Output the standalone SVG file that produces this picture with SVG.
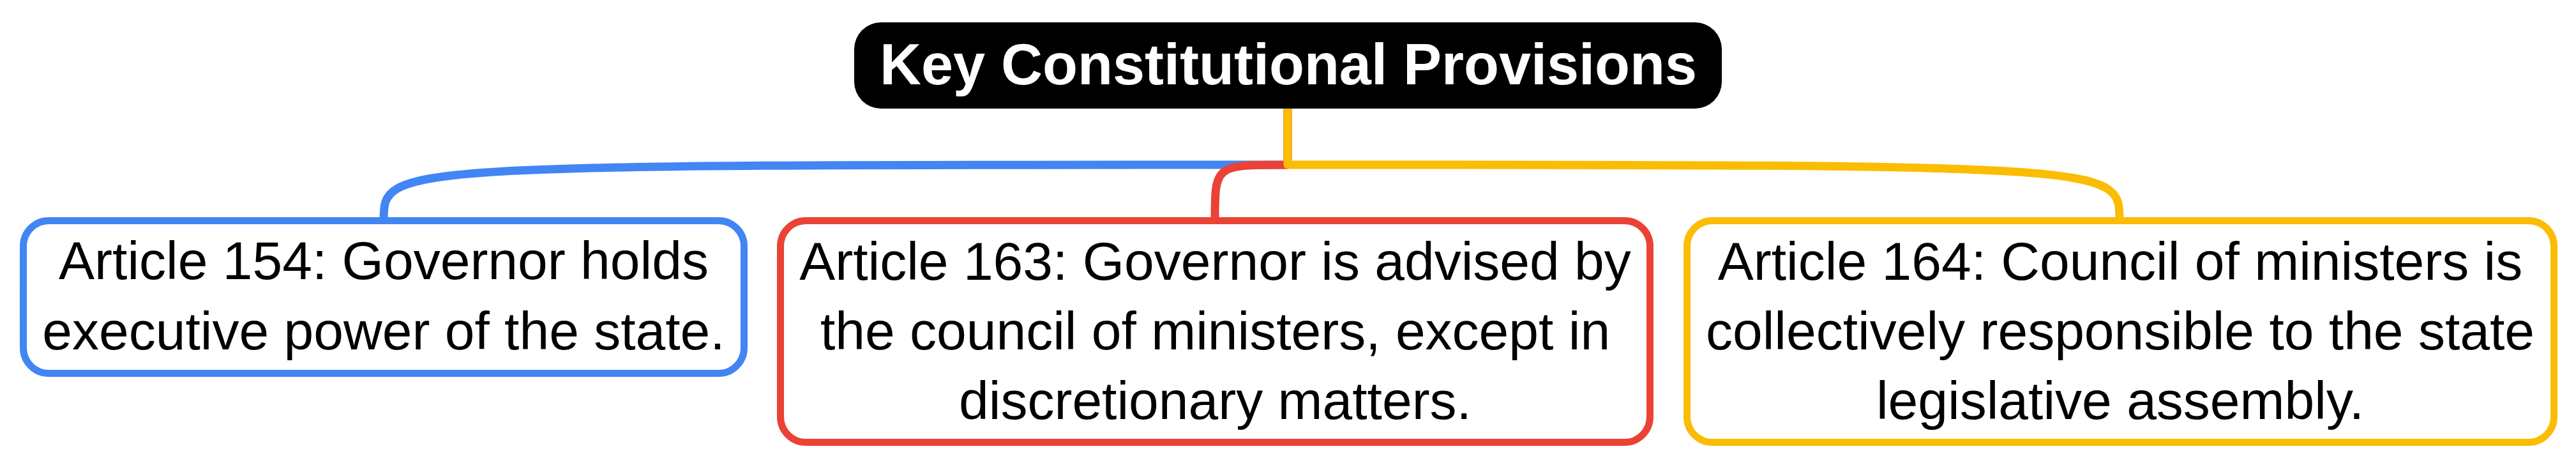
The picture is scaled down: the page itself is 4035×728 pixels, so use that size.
<svg xmlns="http://www.w3.org/2000/svg" width="4035" height="728" viewBox="0 0 4035 728">
<style>
.bg{fill:#ffffff}
.conn{fill:none;stroke-width:13;stroke-linecap:round;stroke-linejoin:round}
.box{fill:#ffffff;stroke-width:11}
.txt{font-family:"Liberation Sans",Arial,sans-serif;font-size:84px;fill:#000000;text-anchor:middle}
.title{font-family:"Liberation Sans",Arial,sans-serif;font-size:90px;font-weight:bold;fill:#ffffff;text-anchor:middle}
</style>
<rect class="bg" x="0" y="0" width="4035" height="728"/>
<g id="connectors">
<path class="conn" stroke="#4285F4" d="M2017 170 L2017 258 C601 258 601 258 601 345"/>
<path class="conn" stroke="#EA4335" d="M2017 170 L2017 258 C1903 258 1903 258 1903 345"/>
<path class="conn" stroke="#FBBC04" d="M2017 170 L2017 258 C3320 258 3320 258 3320 345"/>
</g>
<g id="root">
<rect x="1338" y="35" width="1359" height="135" rx="42" ry="42" fill="#000000"/>
<text class="title" x="2018" y="132">Key Constitutional Provisions</text>
</g>
<g id="node-154">
<rect class="box" stroke="#4285F4" x="36.5" y="345.5" width="1129" height="239" rx="40" ry="40"/>
<text class="txt" x="601" y="437">Article 154: Governor holds</text>
<text class="txt" x="601" y="547">executive power of the state.</text>
</g>
<g id="node-163">
<rect class="box" stroke="#EA4335" x="1222.5" y="345.5" width="1362" height="347" rx="40" ry="40"/>
<text class="txt" x="1903.5" y="438">Article 163: Governor is advised by</text>
<text class="txt" x="1903.5" y="547">the council of ministers, except in</text>
<text class="txt" x="1903.5" y="656">discretionary matters.</text>
</g>
<g id="node-164">
<rect class="box" stroke="#FBBC04" x="2642.5" y="345.5" width="1358" height="347" rx="40" ry="40"/>
<text class="txt" x="3321" y="438">Article 164: Council of ministers is</text>
<text class="txt" x="3321" y="547">collectively responsible to the state</text>
<text class="txt" x="3321" y="656">legislative assembly.</text>
</g>
</svg>
